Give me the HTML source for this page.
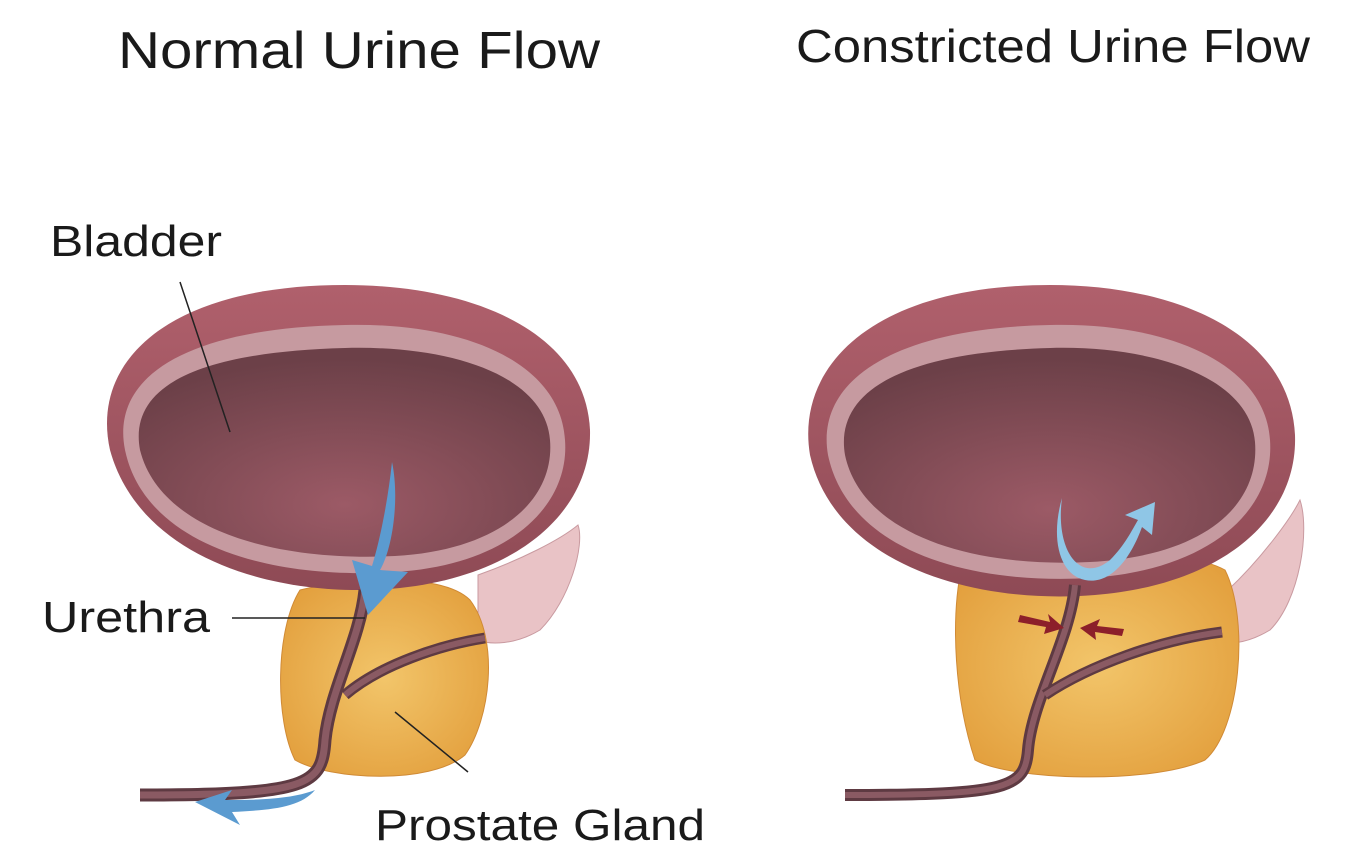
<!DOCTYPE html>
<html><head><meta charset="utf-8"><style>
html,body{margin:0;padding:0;background:#fff;}
svg{display:block;}
text{font-family:"Liberation Sans","DejaVu Sans",sans-serif;fill:#1a1a1a;}
</style></head><body>
<svg width="1346" height="863" viewBox="0 0 1346 863" xmlns="http://www.w3.org/2000/svg">
<defs>
<radialGradient id="cav" cx="0.5" cy="0.75" r="0.7">
<stop offset="0" stop-color="#9c5a66"/><stop offset="1" stop-color="#6c4048"/></radialGradient>
<radialGradient id="pro" cx="0.5" cy="0.5" r="0.6">
<stop offset="0" stop-color="#f2c56a"/><stop offset="1" stop-color="#e3a03e"/></radialGradient>
<linearGradient id="wall" x1="0" y1="0" x2="0" y2="1">
<stop offset="0" stop-color="#b0606c"/><stop offset="1" stop-color="#8e4a55"/></linearGradient>
</defs>

<text x="118" y="68" font-size="52" textLength="482" lengthAdjust="spacingAndGlyphs">Normal Urine Flow</text>
<text x="796" y="62" font-size="46" textLength="514" lengthAdjust="spacingAndGlyphs">Constricted Urine Flow</text>

<!-- LEFT -->
<path d="M478,575 C520,560 560,540 578,525 C585,545 570,600 540,630 C515,645 490,645 478,640 Z" fill="#e9c3c6" stroke="#c99aa0"/>
<path d="M300,590 C340,580 440,570 470,600 C500,640 490,720 465,755 C430,785 330,780 295,760 C275,720 275,630 300,590 Z" fill="url(#pro)" stroke="#d08a35"/>
<path d="M345,285 C470,285 585,330 590,430 C592,510 520,575 400,588 C280,600 140,560 110,450 C90,360 170,285 345,285 Z" fill="url(#wall)"/>
<path d="M345,325 C460,322 560,360 565,440 C570,505 510,565 395,572 C270,580 145,545 125,450 C110,375 190,328 345,325 Z" fill="#c69aa0"/>
<path d="M345,348 C450,345 545,375 550,440 C555,500 500,550 395,556 C275,562 160,530 140,450 C128,385 200,352 345,348 Z" fill="url(#cav)"/>
<path d="M365,590 C360,640 330,690 325,740 C322,785 310,795 140,795" fill="none" stroke="#5e3a42" stroke-width="13"/>
<path d="M365,590 C360,640 330,690 325,740 C322,785 310,795 140,795" fill="none" stroke="#8a5a63" stroke-width="7"/>
<path d="M345,695 C380,665 440,645 485,638" fill="none" stroke="#5e3a42" stroke-width="11"/>
<path d="M345,695 C380,665 440,645 485,638" fill="none" stroke="#8a5a63" stroke-width="6"/>
<path d="M392,462 C400,500 392,550 380,570 L408,572 L368,615 L352,560 L372,566 C380,540 388,500 392,462 Z" fill="#5b9bd0"/>
<path d="M315,790 C290,800 250,800 225,800 L232,790 L195,802 L240,825 L232,812 C270,810 300,808 315,790 Z" fill="#5b9bd0"/>
<line x1="180" y1="282" x2="230" y2="432" stroke="#222" stroke-width="1.5"/>
<line x1="232" y1="618" x2="365" y2="618" stroke="#222" stroke-width="1.5"/>
<line x1="395" y1="712" x2="468" y2="772" stroke="#222" stroke-width="1.5"/>
<text x="50" y="256" font-size="44" textLength="172" lengthAdjust="spacingAndGlyphs">Bladder</text>
<text x="42" y="632" font-size="44" textLength="168" lengthAdjust="spacingAndGlyphs">Urethra</text>
<text x="375" y="840" font-size="44" textLength="330" lengthAdjust="spacingAndGlyphs">Prostate Gland</text>

<!-- RIGHT -->
<path d="M1228,590 C1260,560 1290,520 1300,500 C1310,530 1300,600 1270,630 C1245,645 1225,645 1215,640 Z" fill="#e9c3c6" stroke="#c99aa0"/>
<path d="M962,565 C1040,550 1180,545 1225,570 C1250,620 1240,730 1205,760 C1150,785 1010,780 975,760 C955,700 950,620 962,565 Z" fill="url(#pro)" stroke="#d08a35"/>
<path d="M1050,285 C1180,285 1290,335 1295,435 C1298,520 1220,585 1095,595 C975,605 835,565 810,455 C795,365 875,285 1050,285 Z" fill="url(#wall)"/>
<path d="M1050,325 C1165,322 1265,362 1270,440 C1275,510 1210,570 1090,578 C968,585 848,550 828,455 C815,380 895,328 1050,325 Z" fill="#c69aa0"/>
<path d="M1050,348 C1155,345 1250,378 1255,442 C1260,505 1205,556 1090,562 C973,568 862,535 845,455 C834,390 905,352 1050,348 Z" fill="url(#cav)"/>
<path d="M1075,585 C1070,640 1032,700 1028,750 C1025,788 1010,795 845,795" fill="none" stroke="#5e3a42" stroke-width="12"/>
<path d="M1075,585 C1070,640 1032,700 1028,750 C1025,788 1010,795 845,795" fill="none" stroke="#8a5a63" stroke-width="6"/>
<path d="M1045,695 C1090,665 1160,640 1222,632" fill="none" stroke="#5e3a42" stroke-width="11"/>
<path d="M1045,695 C1090,665 1160,640 1222,632" fill="none" stroke="#8a5a63" stroke-width="6"/>
<path d="M1062,498 C1055,550 1080,585 1110,560 C1125,545 1132,530 1138,520 L1125,515 L1155,502 L1152,535 L1142,527 C1130,560 1110,585 1085,580 C1060,575 1050,540 1062,498 Z" fill="#8fc6e6"/>
<path d="M1020,615 L1050,622 L1048,614 L1064,628 L1044,634 L1046,627 L1018,622 Z" fill="#8c1f2a"/>
<path d="M1122,636 L1095,632 L1096,640 L1080,628 L1100,619 L1097,626 L1124,629 Z" fill="#8c1f2a"/>
</svg>
</body></html>
